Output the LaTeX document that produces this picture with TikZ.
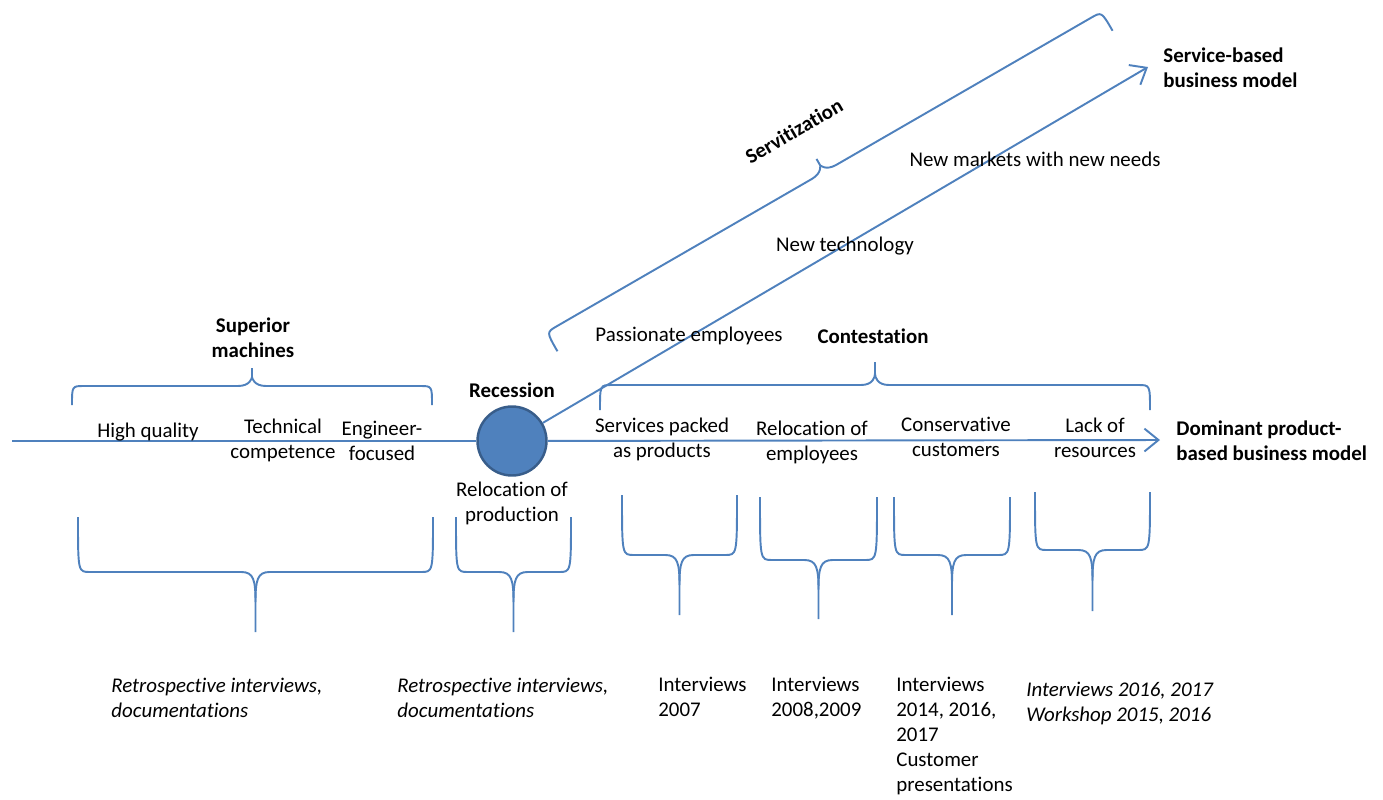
\documentclass[tikz,border=0pt]{standalone}
\usepackage{fontspec}
\setmainfont{Carlito}[Ligatures=NoCommon]
\usetikzlibrary{positioning, arrows.meta}
\definecolor{ofblue}{HTML}{4F81BD}
\definecolor{ofdark}{HTML}{385D8A}
\tikzset{
  bline/.style={draw=ofblue, line width=1.1pt},
  barb/.style={-{Straight Barb[length=8pt,width=13pt]}},
  lbl/.style={align=center, inner sep=0pt, font=\fontsize{11.9}{14.2}\selectfont},
  blbl/.style={lbl, font=\fontsize{11.9}{14.2}\selectfont\bfseries},
  src/.style={align=left, anchor=north west, inner sep=0pt, font=\fontsize{11.9}{14.2}\selectfont},
  isrc/.style={src, font=\fontsize{11.9}{14.2}\selectfont\itshape},
  pics/obrace/.style args={#1/#2/#3}{code={
    \draw[bline] (-#1/2,0) .. controls (-#1/2,#2) and (-#1/2,#2) .. (-#1/2+12,#2)
      -- (-14,#2) .. controls (-2,#2) and (0,#2+8) .. (0,#2+#3/2) -- (0,#2+#3);
    \draw[bline] (#1/2,0) .. controls (#1/2,#2) and (#1/2,#2) .. (#1/2-12,#2)
      -- (14,#2) .. controls (2,#2) and (0,#2+8) .. (0,#2+#3/2);
  }}
}

\begin{document}
\begin{tikzpicture}[x=0.02cm, y=-0.02cm]
  \useasboundingbox (0,0) rectangle (1383,799);

  % timeline
  \coordinate (start) at (12,441);
  \coordinate (domtip) at (1160,440);
  \coordinate (srvtip) at (1148,67);
  \node[circle, minimum size=1.38cm, fill=ofblue, draw=ofdark, line width=1.4pt] (rec) at (512,441) {};
  \draw[bline] (start) -- (rec);
  \draw[bline, barb] (rec) -- (domtip);
  \draw[bline, barb] (rec) -- (srvtip);

  \node[blbl] (supm) at (253,338) {Superior\\machines};
  \node[blbl] (recl) at (512,390) {Recession};
  \node[blbl] (cont) at (873,336) {Contestation};
  \node[blbl, anchor=west, align=left] (sbbm) at (1163,68) {Service-based\\business model};
  \node[blbl, anchor=west, align=left] (dpbm) at (1176,441) {Dominant product-\\based business model};
  \node[blbl, rotate=30] (serv) at (794,131) {Servitization};

  \node[lbl] (hq) at (148,432) {High quality};
  \node[lbl] (tc) at (283,440) {Technical\\competence};
  \node[lbl] (ef) at (382,441) {Engineer-\\focused};
  \node[lbl] (rp) at (512,503) {Relocation of\\production};
  \node[lbl] (spp) at (662,439) {Services packed\\as products};
  \node[lbl] (roe) at (812,442) {Relocation of\\employees};
  \node[lbl] (cc) at (956,437) {Conservative\\customers};
  \node[lbl] (lor) at (1095,438) {Lack of\\resources};
  \node[lbl] (pe) at (689,336) {Passionate employees};
  \node[lbl] (nt) at (845,246) {New technology};
  \node[lbl] (nm) at (1035,159) {New markets with new needs};

  % braces
  \pic[rotate=180] at (252,405) {obrace=360/19/18};
  \pic[rotate=180] at (875,410) {obrace=550/25/23};
  \pic[rotate=-150] at (835,191) {obrace=641/22/15};
  \pic at (255.5,517) {obrace=355/55/60};
  \pic at (513.5,517) {obrace=115/55/60};
  \pic at (679.5,495) {obrace=115/60/60};
  \pic at (818.5,497) {obrace=117/63/59};
  \pic at (952,497) {obrace=116/58/60};
  \pic at (1092.5,492) {obrace=115/58/61};

  % sources
  \node[isrc] (s1) at (111,678) {Retrospective interviews,\\documentations};
  \node[isrc] (s2) at (397,678) {Retrospective interviews,\\documentations};
  \node[src] (s3) at (658,677) {Interviews\\2007};
  \node[src] (s4) at (771,677) {Interviews\\2008,2009};
  \node[src] (s5) at (896,677) {Interviews\\2014, 2016,\\2017\\Customer\\presentations};
  \node[isrc] (s6) at (1026,682) {Interviews 2016, 2017\\Workshop 2015, 2016};
\end{tikzpicture}
\end{document}
